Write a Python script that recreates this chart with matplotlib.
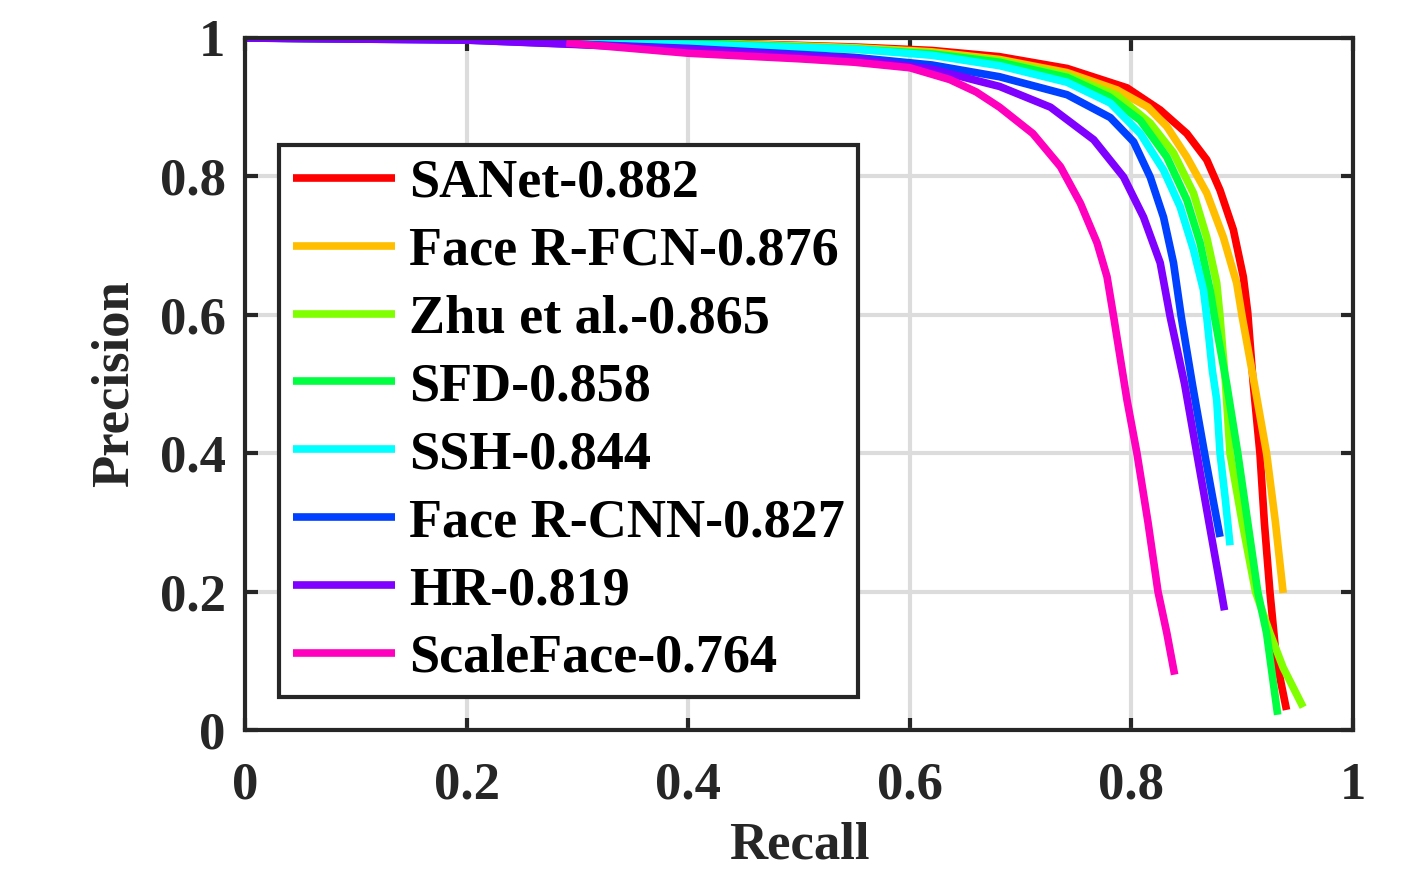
import matplotlib
matplotlib.use("Agg")
import matplotlib.pyplot as plt

labels = ["SANet-0.882", "Face R-FCN-0.876", "Zhu et al.-0.865", "SFD-0.858",
          "SSH-0.844", "Face R-CNN-0.827", "HR-0.819", "ScaleFace-0.764"]
colors = ["#FF0000", "#FFBF00", "#80FF00", "#00FF40",
          "#00FFFF", "#0040FF", "#8000FF", "#FF00BF"]

sanet_r = [0, 0.2, 0.4, 0.55, 0.62, 0.681, 0.742, 0.796, 0.826, 0.850, 0.868, 0.880, 0.892, 0.901, 0.905, 0.910, 0.916, 0.920, 0.925, 0.931, 0.940]
sanet_p = [1.0, 0.998, 0.994, 0.987, 0.982, 0.973, 0.956, 0.928, 0.896, 0.862, 0.824, 0.780, 0.723, 0.655, 0.603, 0.50, 0.40, 0.30, 0.20, 0.10, 0.029]

rfcn_r = [0, 0.2, 0.4, 0.55, 0.62, 0.681, 0.742, 0.787, 0.815, 0.832, 0.850, 0.868, 0.883, 0.895, 0.900, 0.911, 0.922, 0.930, 0.937]
rfcn_p = [1.0, 0.998, 0.994, 0.986, 0.980, 0.969, 0.950, 0.925, 0.900, 0.872, 0.828, 0.776, 0.712, 0.646, 0.597, 0.50, 0.40, 0.30, 0.198]

zhu_r = [0, 0.2, 0.4, 0.55, 0.62, 0.681, 0.742, 0.787, 0.817, 0.838, 0.856, 0.868, 0.877, 0.880, 0.885, 0.889, 0.900, 0.912, 0.925, 0.937, 0.955]
zhu_p = [1.0, 0.998, 0.993, 0.985, 0.978, 0.967, 0.946, 0.917, 0.877, 0.834, 0.776, 0.712, 0.646, 0.597, 0.50, 0.40, 0.30, 0.20, 0.14, 0.09, 0.033]

sfd_r = [0, 0.2, 0.4, 0.55, 0.62, 0.681, 0.742, 0.780, 0.808, 0.832, 0.850, 0.862, 0.871, 0.875, 0.886, 0.896, 0.905, 0.914, 0.922, 0.932]
sfd_p = [1.0, 0.998, 0.993, 0.984, 0.977, 0.965, 0.943, 0.915, 0.881, 0.828, 0.766, 0.704, 0.636, 0.597, 0.50, 0.40, 0.30, 0.20, 0.14, 0.022]

ssh_r = [0, 0.2, 0.4, 0.55, 0.62, 0.681, 0.742, 0.781, 0.808, 0.829, 0.844, 0.856, 0.865, 0.868, 0.873, 0.877, 0.880, 0.885, 0.889]
ssh_p = [1.0, 0.998, 0.991, 0.984, 0.975, 0.960, 0.936, 0.906, 0.862, 0.809, 0.756, 0.694, 0.636, 0.597, 0.52, 0.477, 0.40, 0.33, 0.267]

rcnn_r = [0, 0.2, 0.4, 0.55, 0.62, 0.681, 0.742, 0.781, 0.802, 0.817, 0.829, 0.838, 0.845, 0.855, 0.866, 0.874, 0.880]
rcnn_p = [1.0, 0.997, 0.985, 0.972, 0.961, 0.944, 0.918, 0.885, 0.850, 0.799, 0.741, 0.675, 0.597, 0.50, 0.40, 0.33, 0.279]

hr_r = [0, 0.2, 0.4, 0.55, 0.62, 0.681, 0.727, 0.766, 0.793, 0.811, 0.826, 0.835, 0.848, 0.859, 0.870, 0.880, 0.884]
hr_p = [1.0, 0.997, 0.984, 0.970, 0.955, 0.930, 0.900, 0.853, 0.799, 0.741, 0.675, 0.597, 0.50, 0.40, 0.30, 0.21, 0.173]

scale_r = [0.29, 0.4, 0.5, 0.55, 0.6, 0.636, 0.66, 0.681, 0.711, 0.736, 0.754, 0.769, 0.778, 0.784, 0.796, 0.805, 0.815, 0.824, 0.832, 0.839]
scale_p = [0.993, 0.978, 0.970, 0.965, 0.957, 0.940, 0.922, 0.900, 0.862, 0.814, 0.761, 0.704, 0.655, 0.597, 0.477, 0.40, 0.30, 0.20, 0.14, 0.08]

series_r = [sanet_r, rfcn_r, zhu_r, sfd_r, ssh_r, rcnn_r, hr_r, scale_r]
series_p = [sanet_p, rfcn_p, zhu_p, sfd_p, ssh_p, rcnn_p, hr_p, scale_p]

ticks = [0, 0.2, 0.4, 0.6, 0.8, 1]
tick_labels = ["0", "0.2", "0.4", "0.6", "0.8", "1"]

plt.rcParams['font.family'] = ['Liberation Serif', 'DejaVu Serif']
plt.rcParams['font.weight'] = 'bold'

W, H = 1410, 871
fig = plt.figure(figsize=(W / 100, H / 100), dpi=100)
ax = fig.add_axes([245 / W, (H - 730) / H, 1108 / W, 692 / H])

for r, p, c, lab in zip(series_r, series_p, colors, labels):
    ax.plot(r, p, color=c, lw=5.5, label=lab, solid_capstyle='butt', solid_joinstyle='round')

ax.set_xlim(0, 1)
ax.set_ylim(0, 1)
ax.set_xticks(ticks)
ax.set_xticklabels(tick_labels)
ax.set_yticks(ticks)
ax.set_yticklabels(tick_labels)
ax.grid(True, color='#DCDCDC', lw=3)
ax.set_axisbelow(True)
dark = '#262626'
for s in ax.spines.values():
    s.set_linewidth(3)
    s.set_color(dark)
ax.tick_params(direction='in', length=9, width=3, color=dark, labelcolor=dark,
               labelsize=38, top=True, right=True)
ax.tick_params(axis='x', pad=23)
ax.tick_params(axis='y', pad=14)
for t in ax.get_xticklabels() + ax.get_yticklabels():
    t.set_fontweight('bold')

ax.set_xlabel("Recall", fontsize=38, fontweight='bold', color=dark, labelpad=8)
ax.set_ylabel("Precision", fontsize=38, fontweight='bold', color=dark, labelpad=15)

leg = ax.legend(loc='upper left', bbox_to_anchor=(0.0307, 0.845), borderaxespad=0,
                fontsize=39, frameon=True, fancybox=False, framealpha=1,
                handlelength=1.9, handletextpad=0.25, labelspacing=0.33,
                borderpad=0.25)
leg.get_frame().set_edgecolor(dark)
leg.get_frame().set_linewidth(3)
for t in leg.get_texts():
    t.set_fontweight('bold')
    t.set_color('black')

fig.savefig("out.png", dpi=100)
